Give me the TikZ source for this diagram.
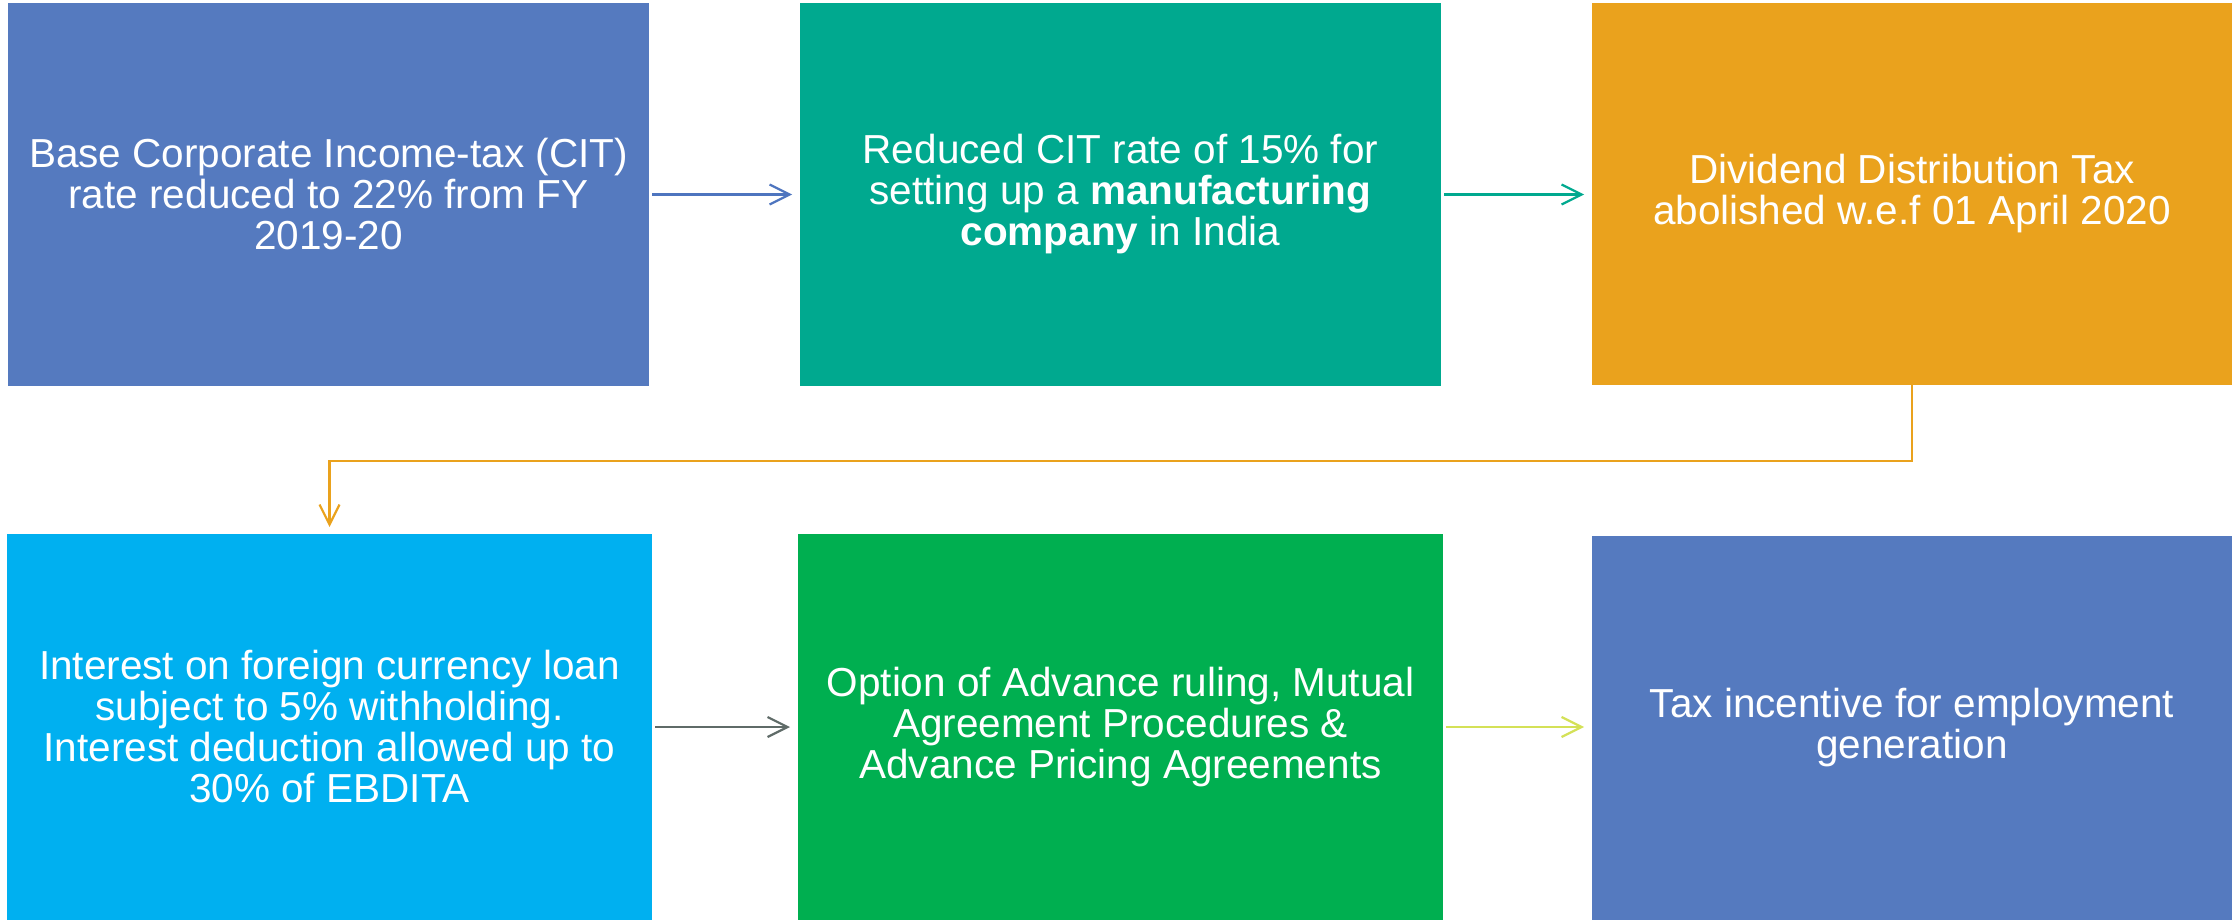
\documentclass[tikz,border=0pt]{standalone}
\usepackage{fontspec}
\setmainfont{Liberation Sans}
\usetikzlibrary{arrows.meta}
\definecolor{cblue}{HTML}{557ABF}
\definecolor{cteal}{HTML}{00A98F}
\definecolor{corange}{HTML}{EAA21D}
\definecolor{ccyan}{HTML}{00B0F0}
\definecolor{cgreen}{HTML}{00AF50}
\definecolor{agray}{HTML}{5F6B68}
\definecolor{ayg}{HTML}{D4E157}
\definecolor{ablue}{HTML}{4E75BF}
\tikzset{
  card/.style={rectangle, inner sep=0pt, outer sep=0pt, text=white, align=center,
    font=\fontsize{40.5}{41}\selectfont},
  flow/.style={line width=2.2pt, -{Straight Barb[length=20pt,width=20pt,line width=2.2pt]},
    shorten <=3pt, shorten >=8pt}
}
\begin{document}
\begin{tikzpicture}[x=1pt,y=-1pt]
\useasboundingbox (0,0) rectangle (2233,920);
\node[card, fill=cblue, minimum width=641pt, minimum height=383pt] (b1) at (328.5,194.5)
  {Base Corporate Income-tax (CIT)\\rate reduced to 22\% from FY\\2019-20};
\node[card, fill=cteal, minimum width=641pt, minimum height=383pt] (b2) at (1120.5,194.5)
  {Reduced CIT rate of 15\% for\\setting up a \textbf{manufacturing}\\\textbf{company} in India};
\node[card, fill=corange, minimum width=640pt, minimum height=382pt] (b3) at (1912,194)
  {Dividend Distribution Tax\\abolished w.e.f 01 April 2020};
\node[card, fill=ccyan, minimum width=645pt, minimum height=386pt] (b4) at (329.5,727)
  {Interest on foreign currency loan\\subject to 5\% withholding.\\Interest deduction allowed up to\\30\% of EBDITA};
\node[card, fill=cgreen, minimum width=645pt, minimum height=386pt] (b5) at (1120.5,727)
  {Option of Advance ruling, Mutual\\Agreement Procedures \&\\Advance Pricing Agreements};
\node[card, fill=cblue, minimum width=640pt, minimum height=384pt] (b6) at (1912,728)
  {Tax incentive for employment\\generation};
\coordinate (elbow) at (0,461);
\draw[flow, draw=ablue] (b1.east) -- (b1.east -| b2.west);
\draw[flow, draw=cteal] (b2.east) -- (b2.east -| b3.west);
\draw[flow, draw=corange, shorten <=0pt, shorten >=7pt] (b3.south) -- (b3.south |- elbow) -| (b4.north);
\draw[flow, draw=agray] (b4.east) -- (b4.east -| b5.west);
\draw[flow, draw=ayg] (b5.east) -- (b5.east -| b6.west);
\end{tikzpicture}
\end{document}
